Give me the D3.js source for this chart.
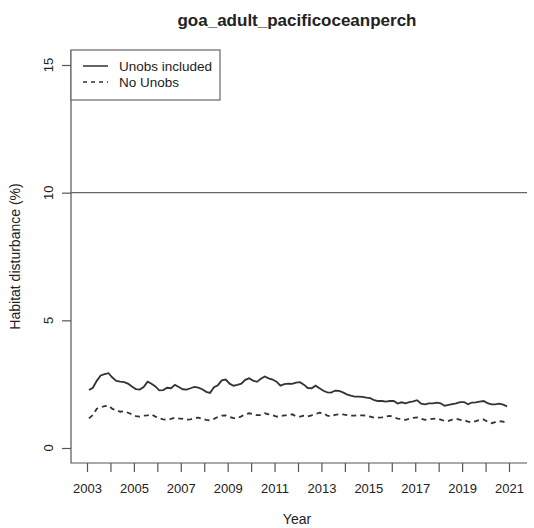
<!DOCTYPE html>
<html>
<head>
<meta charset="utf-8">
<script src="https://cdn.jsdelivr.net/npm/d3@7"></script>
<style>
    body { margin: 0; background: #fff; }
    text { font-family: "Liberation Sans", Arial, sans-serif; fill: #222; }
</style>
</head>
<body>
<div id="chart"></div>
<script>
// chart data: values read every 2 months, starting Feb 2003
var startYear = 2003;
var firstMonth = 1;
var monthStep = 2;

var unobsIncluded = [
    2.27, 2.36, 2.63, 2.84, 2.89, 2.93, 2.76, 2.63, 2.60, 2.58, 2.52, 2.41, 2.31, 2.29, 2.39, 2.60, 2.52, 2.41, 2.26, 2.27, 2.36, 2.34, 2.47, 2.39, 2.30, 2.29,
    2.34, 2.39, 2.36, 2.30, 2.20, 2.16, 2.38, 2.46, 2.65, 2.68, 2.52, 2.44, 2.47, 2.52, 2.67, 2.73, 2.64, 2.59, 2.71, 2.80, 2.73, 2.68, 2.60, 2.44, 2.50, 2.52, 2.51,
    2.56, 2.58, 2.48, 2.35, 2.34, 2.44, 2.34, 2.24, 2.18, 2.17, 2.25, 2.24, 2.18, 2.10, 2.05, 2.01, 2.01, 2.00, 1.97, 1.95, 1.87, 1.84, 1.84, 1.82, 1.84, 1.84, 1.74,
    1.79, 1.75, 1.80, 1.83, 1.87, 1.74, 1.71, 1.75, 1.75, 1.78, 1.75, 1.65, 1.69, 1.72, 1.75, 1.80, 1.80, 1.71, 1.78, 1.79, 1.82, 1.84, 1.76, 1.71, 1.71, 1.74, 1.70, 1.63
];

var noUnobs = [
    1.16, 1.29, 1.54, 1.59, 1.64, 1.66, 1.53, 1.48, 1.42, 1.44, 1.38, 1.32, 1.25, 1.23, 1.27, 1.28, 1.32, 1.23, 1.16, 1.12, 1.11, 1.14, 1.19, 1.16, 1.14, 1.11,
    1.12, 1.17, 1.19, 1.14, 1.10, 1.08, 1.14, 1.22, 1.27, 1.28, 1.22, 1.17, 1.17, 1.24, 1.32, 1.36, 1.32, 1.29, 1.29, 1.36, 1.32, 1.28, 1.23, 1.24, 1.28, 1.28, 1.32,
    1.24, 1.23, 1.27, 1.24, 1.28, 1.33, 1.38, 1.36, 1.27, 1.24, 1.30, 1.32, 1.32, 1.29, 1.27, 1.27, 1.28, 1.28, 1.27, 1.23, 1.19, 1.19, 1.20, 1.23, 1.26, 1.21, 1.15,
    1.14, 1.10, 1.14, 1.18, 1.20, 1.15, 1.10, 1.12, 1.14, 1.16, 1.11, 1.06, 1.06, 1.11, 1.14, 1.10, 1.09, 1.03, 1.01, 1.05, 1.10, 1.12, 1.03, 0.97, 1.01, 1.05, 1.03, 0.97
];

var xTicks = d3.range(2003, 2022, 1);
var xLabels = [2003, 2005, 2007, 2009, 2011, 2013, 2015, 2017, 2019, 2021];
var yTicks = [0, 5, 10, 15];
var refLine = 10;

var titleText = "goa_adult_pacificoceanperch";
var xTitle = "Year";
var yTitle = "Habitat disturbance (%)";
var legendLabels = ["Unobs included", "No Unobs"];

buildChart();

function buildChart() {
    var svgWidth = 534;
    var svgHeight = 528;

    // plot region (R style, 4% padding around data)
    var left = 71, right = 527, top = 50, bottom = 463;

    var svg = d3.select("#chart").append("svg")
        .attr("width", svgWidth)
        .attr("height", svgHeight);

    var xScale = d3.scaleLinear()
        .domain([2003, 2021])
        .range([87, 509]);

    var yScale = d3.scaleLinear()
        .domain([0, 15])
        .range([448, 65]);

    var toYear = i => startYear + (firstMonth + i * monthStep) / 12;

    // title
    svg.append("text")
        .attr("x", (left + right) / 2 - 2)
        .attr("y", 26)
        .attr("text-anchor", "middle")
        .attr("font-size", 17)
        .attr("font-weight", "bold")
        .text(titleText);

    // box on left and bottom only
    svg.append("path")
        .attr("d", `M${left},${top}V${bottom}H${right}`)
        .attr("fill", "none")
        .attr("stroke", "#555")
        .attr("stroke-width", 1.2);

    // x axis
    var xAxis = d3.axisBottom(xScale)
        .tickValues(xTicks)
        .tickSize(9)
        .tickPadding(12)
        .tickFormat(d => xLabels.indexOf(d) >= 0 ? d : "");

    var xg = svg.append("g")
        .attr("transform", `translate(0, ${bottom})`)
        .call(xAxis);
    xg.select(".domain").remove();
    xg.selectAll("line").attr("stroke", "#555").attr("stroke-width", 1.2);
    xg.selectAll("text")
        .attr("font-size", 13)
        .attr("font-family", "Liberation Sans, Arial, sans-serif")
        .attr("fill", "#222");

    // y axis, labels turned like R
    var yAxis = d3.axisLeft(yScale)
        .tickValues(yTicks)
        .tickSize(9)
        .tickFormat("");

    var yg = svg.append("g")
        .attr("transform", `translate(${left}, 0)`)
        .call(yAxis);
    yg.select(".domain").remove();
    yg.selectAll("line").attr("stroke", "#555").attr("stroke-width", 1.2);

    svg.append("g")
        .selectAll("text")
        .data(yTicks)
        .enter()
        .append("text")
        .attr("transform", d => `translate(53, ${yScale(d)}) rotate(-90)`)
        .attr("text-anchor", "middle")
        .attr("font-size", 13)
        .text(d => d);

    // axis titles
    svg.append("text")
        .attr("x", (left + right) / 2 - 2)
        .attr("y", 524)
        .attr("text-anchor", "middle")
        .attr("font-size", 14)
        .text(xTitle);

    svg.append("text")
        .attr("transform", `translate(20, ${(top + bottom) / 2}) rotate(-90)`)
        .attr("text-anchor", "middle")
        .attr("font-size", 14)
        .text(yTitle);

    // reference line at 10%
    svg.append("line")
        .attr("x1", left)
        .attr("x2", right)
        .attr("y1", yScale(refLine))
        .attr("y2", yScale(refLine))
        .attr("stroke", "#666")
        .attr("stroke-width", 1.3);

    // series lines
    var line = d3.line()
        .x((d, i) => xScale(toYear(i)))
        .y(d => yScale(d));

    svg.append("path")
        .datum(unobsIncluded)
        .attr("d", line)
        .attr("fill", "none")
        .attr("stroke", "#333")
        .attr("stroke-width", 1.8);

    svg.append("path")
        .datum(noUnobs)
        .attr("d", line)
        .attr("fill", "none")
        .attr("stroke", "#333")
        .attr("stroke-width", 1.8)
        .attr("stroke-dasharray", "5,4");

    // legend
    var legend = svg.append("g");
    legend.append("rect")
        .attr("x", left)
        .attr("y", top)
        .attr("width", 149)
        .attr("height", 50)
        .attr("fill", "#fff")
        .attr("stroke", "#666")
        .attr("stroke-width", 1.2);

    legendLabels.forEach((lab, i) => {
        var ly = 66 + i * 16;
        legend.append("line")
            .attr("x1", 83)
            .attr("x2", 108)
            .attr("y1", ly)
            .attr("y2", ly)
            .attr("stroke", "#333")
            .attr("stroke-width", 1.5)
            .attr("stroke-dasharray", i == 1 ? "4,4" : null);
        legend.append("text")
            .attr("x", 119)
            .attr("y", ly + 5)
            .attr("font-size", 13.5)
            .text(lab);
    });
}
</script>
</body>
</html>
